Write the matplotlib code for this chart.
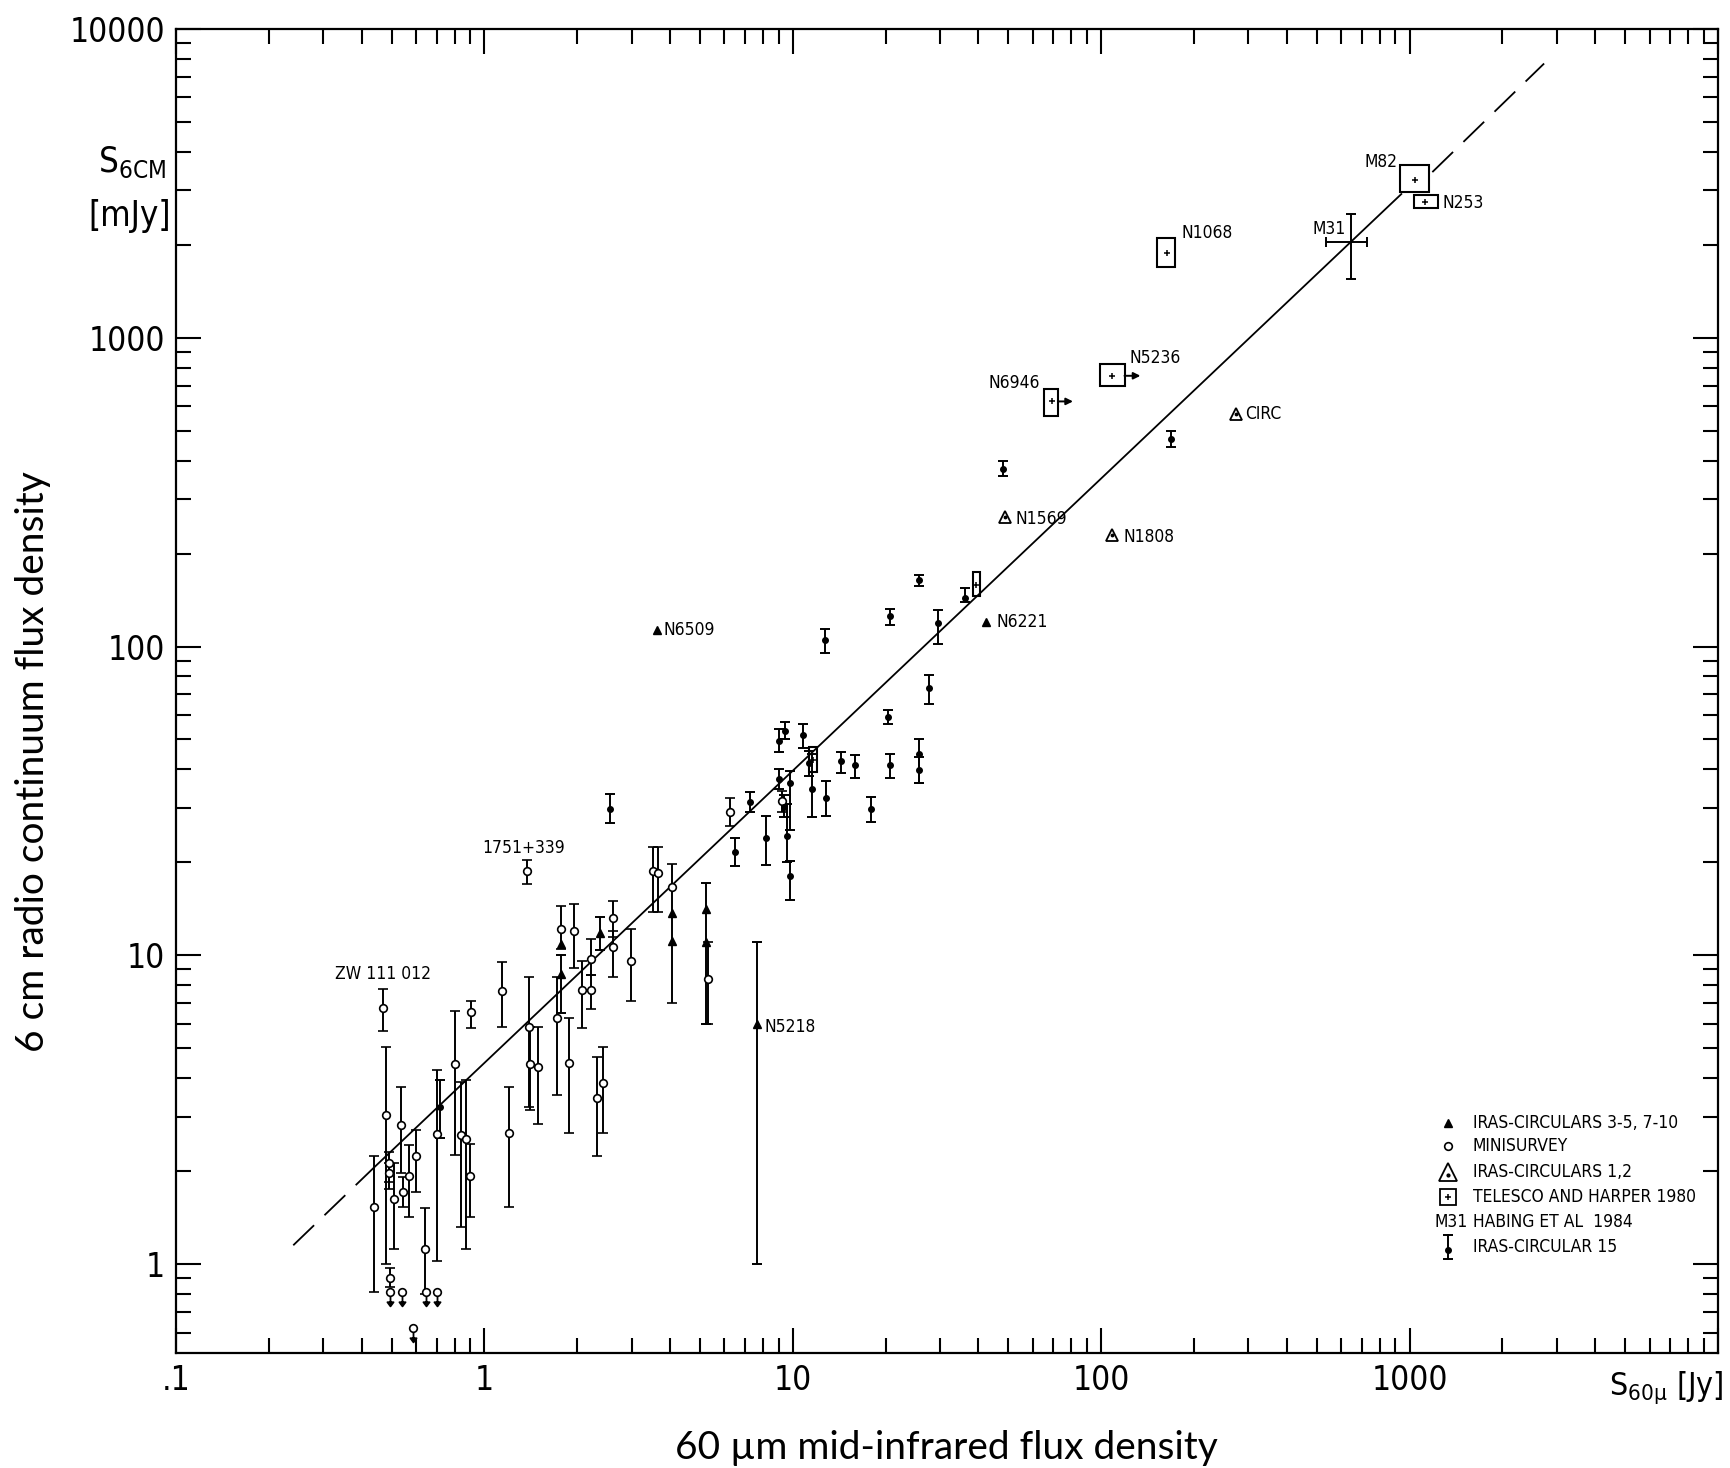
#!/usr/bin/env python3

import numpy as np
import matplotlib
matplotlib.use("Agg")
import matplotlib.pyplot as plt
from matplotlib import font_manager
from matplotlib.patches import Rectangle
from matplotlib.path import Path
from matplotlib.ticker import LogLocator, NullFormatter


# values: S60 in Jy, S6cm in mJy

# MINISURVEY, open circles with error bars
mini_x = [0.47, 0.48, 0.44, 0.49, 0.49, 0.51, 0.538, 0.546, 0.569, 0.60, 0.64,
          0.70, 0.805, 0.907, 0.842, 0.87, 0.896, 1.14, 1.20, 1.39, 1.41, 1.49,
          1.72, 1.77, 1.88, 1.955, 2.08, 2.21, 2.21, 2.31, 2.43, 2.62, 2.62,
          2.99, 1.37, 3.51, 3.65, 4.06, 5.30, 6.26, 9.2, 0.493]
mini_y = [6.77, 3.04, 1.53, 2.12, 1.97, 1.62, 2.83, 1.71, 1.93, 2.24, 1.12,
          2.63, 4.44, 6.57, 2.61, 2.54, 1.93, 7.66, 2.65, 5.86, 4.45, 4.35,
          6.24, 12.2, 4.48, 11.95, 7.70, 7.70, 9.70, 3.46, 3.86, 13.2, 10.6,
          9.56, 18.7, 18.8, 18.4, 16.6, 8.40, 29.2, 31.7, 0.90]
mini_lo = [5.7, 1.0, 0.81, 1.85, 1.75, 1.12, 1.97, 1.53, 1.42, 1.71, 0.80,
           1.02, 2.25, 5.83, 1.32, 1.12, 1.42, 5.87, 1.53, 3.23, 3.15, 2.84,
           3.54, 10.5, 2.65, 9.06, 5.80, 6.70, 8.60, 2.24, 2.65, 11.5, 8.5,
           7.10, 17.0, 13.8, 13.8, 7.0, 6.0, 26.2, 29.0, 0.84]
mini_hi = [7.8, 5.05, 2.24, 2.30, 2.12, 2.12, 3.75, 1.92, 2.43, 2.71, 1.52,
           4.24, 6.59, 7.10, 3.90, 3.94, 2.44, 9.50, 3.75, 8.50, 5.86, 5.86,
           8.50, 14.4, 6.24, 14.7, 9.60, 8.60, 11.3, 4.68, 5.05, 15.0, 12.0,
           12.2, 20.4, 22.4, 22.4, 19.8, 11.0, 32.3, 34.0, 0.97]

# MINISURVEY upper limits
mini_ul_x = [0.494, 0.54, 0.645, 0.70, 0.587]
mini_ul_y = [0.81, 0.81, 0.81, 0.81, 0.62]

# IRAS-CIRCULARS 3-5, 7-10, filled triangles
tri_err_x = [7.66, 1.77, 2.37, 5.23]
tri_err_y = [6.0, 8.7, 11.8, 14.1]
tri_err_lo = [1.0, 6.5, 10.4, 6.0]
tri_err_hi = [11.0, 10.0, 13.3, 17.2]
tri_x = [3.62, 42.4, 1.77, 4.05, 4.05, 5.23]
tri_y = [113, 120, 10.9, 13.7, 11.1, 11.0]

# IRAS-CIRCULAR 15, dots with error bars
c15_x = [0.716, 2.56, 6.5, 7.29, 8.19, 9.0, 9.43, 10.8, 9.0, 9.38, 9.8, 9.6,
         9.8, 11.26, 11.5, 12.8, 14.3, 15.9, 17.9, 20.4, 20.6, 12.7, 20.7,
         29.6, 27.6, 25.6, 25.6, 25.6, 36.3, 48.1, 168]
c15_y = [3.23, 29.7, 21.6, 31.4, 24.0, 49.6, 53.2, 51.5, 37.3, 30.2, 36.0,
         24.4, 18.0, 42.0, 34.6, 32.2, 42.5, 41.2, 29.7, 59.3, 41.2, 105, 126,
         119, 73.5, 44.7, 39.7, 164, 144, 376, 470]
c15_lo = [2.56, 26.9, 19.5, 29.1, 19.6, 45.5, 50.0, 47.0, 34.5, 28.0, 25.4,
          20.0, 15.1, 38.0, 28.0, 28.3, 39.0, 37.5, 27.0, 56.0, 37.5, 95, 117,
          102, 65, 36.0, 36.0, 157, 139, 356, 443]
c15_hi = [3.94, 33.2, 23.9, 33.7, 28.3, 54.0, 57.0, 56.0, 40.0, 33.0, 39.4,
          31.0, 20.2, 46.0, 45.0, 36.8, 45.5, 44.5, 32.5, 62.5, 45.0, 114, 132,
          131, 80.8, 50.3, 44.0, 170, 155, 400, 500]

# IRAS-CIRCULARS 1,2, triangle with dot
c12_x = [48.7, 108, 273]
c12_y = [262, 229, 566]

# TELESCO AND HARPER 1980, error boxes
tel_x = [163, 108, 69, 1043, 1120, 39.4, 11.6]
tel_y = [1888, 753, 622, 3245, 2759, 158, 43]
tel_xlo = [152, 99, 65.3, 933, 1031, 38.4, 11.3]
tel_xhi = [174, 119, 72.5, 1153, 1240, 40.4, 12.0]
tel_ylo = [1689, 699, 556, 2975, 2630, 146, 39.2]
tel_yhi = [2102, 822, 682, 3631, 2910, 174, 47.2]
# lower limits in S60 (arrows to the right)
arrow_from = [119, 72.5]
arrow_to = [134, 81]
arrow_y = [753, 622]

# M31, HABING ET AL 1984
m31_x, m31_y = 645, 2049
m31_xlo, m31_xhi = 535, 730
m31_ylo, m31_yhi = 1549, 2524

# fitted relation as drawn: dashed, solid, dashed
fit_dash1_x, fit_dash1_y = [0.24, 0.44], [1.15, 2.06]
fit_solid_x, fit_solid_y = [0.44, 940], [2.06, 2920]
fit_dash2_x, fit_dash2_y = [1185, 2730], [3440, 7730]

# names written next to points: (label, x, y, dx, dy, ha) offsets in points
names = [
    ("ZW 111 012", 0.47, 6.77, 0, 24, "center"),
    ("1751+339", 1.37, 18.7, -2, 17, "center"),
    ("N5218", 7.66, 6.0, 5, -2, "left"),
    ("N6509", 3.62, 113, 5, 0, "left"),
    ("N1569", 48.7, 262, 8, -1, "left"),
    ("N1808", 108, 229, 8.5, -1, "left"),
    ("N6221", 42.4, 120, 7, 0, "left"),
    ("CIRC", 273, 566, 7, 0, "left"),
    ("N1068", 163, 1888, 10.5, 14, "left"),
    ("N5236", 108, 753, 13, 13, "left"),
    ("N6946", 69, 622, -8, 13, "right"),
    ("M31", 645, 2049, -4, 9, "right"),
    ("M82", 1043, 3245, -13, 13, "right"),
    ("N253", 1120, 2759, 13, -1, "left"),
]

legend_rows = ["IRAS-CIRCULARS 3-5, 7-10", "MINISURVEY", "IRAS-CIRCULARS 1,2",
               "TELESCO AND HARPER 1980", "HABING ET AL  1984", "IRAS-CIRCULAR 15"]

x_ticks = [0.1, 1, 10, 100, 1000, 10000]
x_ticklabels = [".1", "1", "10", "100", "1000", ""]
y_ticks = [1, 10, 100, 1000, 10000]
y_ticklabels = ["1", "10", "100", "1000", "10000"]


def pick_font(wanted, fallback="DejaVu Sans"):
    installed = {f.name for f in font_manager.fontManager.ttflist}
    for name in wanted:
        if name in installed:
            return name
    return fallback


def has_condensed(name):
    return any(f.name == name and "condensed" in str(f.stretch)
               for f in font_manager.fontManager.ttflist)


def down_arrow():
    # stem from the point downwards plus a filled head
    verts = [(0, -0.2), (0, -0.75), (-0.22, -0.7), (0.22, -0.7), (0, -1.0), (-0.22, -0.7)]
    codes = [Path.MOVETO, Path.LINETO, Path.MOVETO, Path.LINETO, Path.LINETO, Path.CLOSEPOLY]
    return Path(verts, codes)


def bars(ax, x, y, lo, hi, **kw):
    x, y = np.asarray(x, float), np.asarray(y, float)
    yerr = [y - np.asarray(lo, float), np.asarray(hi, float) - y]
    ax.errorbar(x, y, yerr=yerr, linestyle="none", ecolor="black",
                elinewidth=1.4, capsize=3.5, capthick=1.4, zorder=3, **kw)


def draw_legend(ax, size):
    mx, tx = 0.825, 0.841
    rows = [0.1737, 0.1563, 0.1367, 0.1178, 0.0989, 0.0801]
    t = ax.transAxes
    ax.plot(mx, rows[0], "^", color="black", ms=5.5, transform=t)
    ax.plot(mx, rows[1], "o", mfc="white", mec="black", ms=5.5, mew=1.2, transform=t)
    ax.plot(mx, rows[2], "^", mfc="white", mec="black", ms=13, mew=1.3, transform=t)
    ax.plot(mx, rows[2] - 0.002, ".", color="black", ms=4, transform=t)
    ax.plot(mx, rows[3], "s", mfc="white", mec="black", ms=12, mew=1.3, transform=t)
    ax.plot(mx, rows[3], "+", color="black", ms=4, mew=1.1, transform=t)
    ax.text(tx - 0.003, rows[4], "M31", ha="right", va="center", fontsize=size, transform=t)
    ax.plot([mx, mx], [rows[5] - 0.009, rows[5] + 0.009], color="black", lw=1.4, transform=t)
    ax.plot([mx, mx], [rows[5] - 0.009, rows[5] + 0.009], "_", color="black", ms=7, mew=1.4, transform=t)
    ax.plot(mx, rows[5] - 0.002, "o", color="black", ms=4, transform=t)
    for row, label in zip(rows, legend_rows):
        ax.text(tx, row, label, ha="left", va="center", fontsize=size, transform=t)


def main():
    tech = pick_font(["Liberation Sans Narrow", "Liberation Sans", "DejaVu Sans"])
    narrow = tech == "Liberation Sans Narrow"
    if not narrow and has_condensed("DejaVu Sans"):
        tech = "DejaVu Sans"
        plt.rcParams["font.stretch"] = "condensed"
        narrow = True
    label_font = pick_font(["Lato", "Open Sans", "Noto Sans"])
    plt.rcParams["font.family"] = tech
    plt.rcParams["mathtext.fontset"] = "custom"
    plt.rcParams["mathtext.rm"] = tech
    plt.rcParams["mathtext.it"] = tech
    plt.rcParams["mathtext.bf"] = tech

    # text sizes: the original lettering is narrow
    small = 12.5 if narrow else 11.5
    tick_size = 24 if narrow else 22
    name_size = 25 if narrow else 23

    fig = plt.figure(figsize=(17.31, 14.68), dpi=100)
    ax = fig.add_axes([0.10168, 0.07834, 0.89081, 0.90191])
    ax.set_xscale("log")
    ax.set_yscale("log")
    ax.set_xlim(0.1, 10000)
    ax.set_ylim(0.515, 10000)

    # fitted line
    dash = dict(color="black", lw=1.3, dashes=(16, 8))
    ax.plot(fit_dash1_x, fit_dash1_y, **dash)
    ax.plot(fit_solid_x, fit_solid_y, color="black", lw=1.3)
    ax.plot(fit_dash2_x, fit_dash2_y, **dash)

    # minisurvey
    bars(ax, mini_x, mini_y, mini_lo, mini_hi, fmt="o", mfc="white",
         mec="black", ms=5.5, mew=1.2)
    ax.plot(mini_ul_x, mini_ul_y, linestyle="none", marker=down_arrow(),
            ms=20, color="black", mew=1.3, zorder=2)
    ax.plot(mini_ul_x, mini_ul_y, "o", mfc="white", mec="black", ms=5.5,
            mew=1.2, zorder=4)

    # IRAS circulars 3-5, 7-10
    bars(ax, tri_err_x, tri_err_y, tri_err_lo, tri_err_hi, fmt="^",
         color="black", ms=5.5)
    ax.plot(tri_x, tri_y, "^", color="black", ms=5.5, linestyle="none", zorder=4)

    # IRAS circular 15
    bars(ax, c15_x, c15_y, c15_lo, c15_hi, fmt="o", color="black", ms=4)

    # IRAS circulars 1,2
    ax.plot(c12_x, c12_y, "^", mfc="white", mec="black", ms=9, mew=1.3,
            linestyle="none", zorder=4)
    ax.plot(c12_x, c12_y, ".", color="black", ms=3.5, linestyle="none", zorder=5)

    # Telesco and Harper error boxes
    for x0, x1, y0, y1 in zip(tel_xlo, tel_xhi, tel_ylo, tel_yhi):
        ax.add_patch(Rectangle((x0, y0), x1 - x0, y1 - y0, fill=False,
                               edgecolor="black", lw=1.5, zorder=4))
    ax.plot(tel_x, tel_y, "+", color="black", ms=4, mew=1.1,
            linestyle="none", zorder=5)
    for x0, x1, y in zip(arrow_from, arrow_to, arrow_y):
        ax.annotate("", xy=(x1, y), xytext=(x0, y),
                    arrowprops=dict(arrowstyle="-|>", color="black", lw=1.4,
                                    mutation_scale=10, shrinkA=0, shrinkB=0))

    # M31
    ax.errorbar(m31_x, m31_y,
                xerr=[[m31_x - m31_xlo], [m31_xhi - m31_x]],
                yerr=[[m31_y - m31_ylo], [m31_yhi - m31_y]],
                fmt="none", ecolor="black", elinewidth=1.4, capsize=3.5,
                capthick=1.4, zorder=3)

    for text, x, y, dx, dy, ha in names:
        ax.annotate(text, (x, y), xytext=(dx, dy), textcoords="offset points",
                    ha=ha, va="center", fontsize=small)

    draw_legend(ax, small)

    # axes, ticks
    for side in ax.spines.values():
        side.set_linewidth(1.6)
    ax.set_xticks(x_ticks)
    ax.set_xticklabels(x_ticklabels)
    ax.set_yticks(y_ticks)
    ax.set_yticklabels(y_ticklabels)
    ax.xaxis.set_minor_locator(LogLocator(base=10, subs=np.arange(2, 10), numticks=20))
    ax.yaxis.set_minor_locator(LogLocator(base=10, subs=np.arange(2, 10), numticks=20))
    ax.xaxis.set_minor_formatter(NullFormatter())
    ax.yaxis.set_minor_formatter(NullFormatter())
    ax.tick_params(which="both", direction="in", top=True, right=True,
                   width=1.5, labelsize=tick_size)
    ax.tick_params(which="major", length=18, pad=8)
    ax.tick_params(which="minor", length=11)

    # axis names as printed in the figure
    fig.text(0.0960, 1 - 172 / 1468, r"$\mathrm{S_{6CM}}$", ha="right",
             va="baseline", fontsize=name_size)
    fig.text(0.0990, 1 - 226 / 1468, "[mJy]", ha="right", va="baseline",
             fontsize=name_size)
    fig.text(1724 / 1731, 1 - 1395 / 1468, r"$\mathrm{S_{60\mu}}$ [Jy]",
             ha="right", va="baseline", fontsize=name_size - 2)

    # added captions
    fig.text(0.019, 0.481, "6 cm radio continuum flux density", rotation=90,
             ha="center", va="center", fontsize=28, family=label_font)
    fig.text(0.5465, 1 - 1459 / 1468, "60 µm mid-infrared flux density",
             ha="center", va="baseline", fontsize=28, family=label_font)

    fig.savefig("out.png", dpi=100)


if __name__ == "__main__":
    main()
